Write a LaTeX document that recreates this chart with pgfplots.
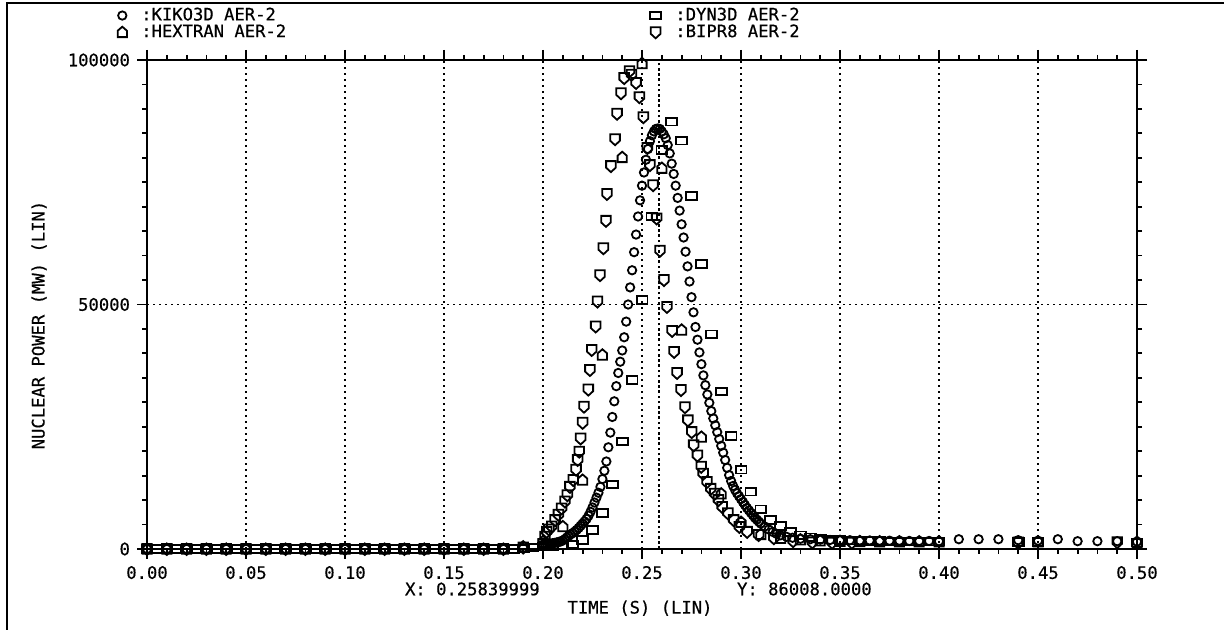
\documentclass[border=0pt]{standalone}
\usepackage{fontspec}
\setmainfont{DejaVu Sans Mono}[FakeBold=0.5]
\usepackage{pgfplots}
\usepackage{pgfplotstable}
\pgfplotsset{compat=1.18}
\newcommand\pf{\fontsize{8.6}{9}\selectfont}

% marks of the old plot program
\pgfdeclareplotmark{rect}{\pgfpathrectangle{\pgfpoint{-2.7pt}{-1.9pt}}{\pgfpoint{5.4pt}{3.8pt}}\pgfusepathqstroke}
\pgfdeclareplotmark{house}{%
  \pgfpathmoveto{\pgfpoint{-2.3pt}{-2.4pt}}\pgfpathlineto{\pgfpoint{2.3pt}{-2.4pt}}%
  \pgfpathlineto{\pgfpoint{2.3pt}{0.8pt}}\pgfpathlineto{\pgfpoint{0pt}{2.8pt}}%
  \pgfpathlineto{\pgfpoint{-2.3pt}{0.8pt}}\pgfpathclose\pgfusepathqstroke}
\pgfdeclareplotmark{shield}{%
  \pgfpathmoveto{\pgfpoint{-2.4pt}{2.5pt}}\pgfpathlineto{\pgfpoint{2.4pt}{2.5pt}}%
  \pgfpathlineto{\pgfpoint{2.4pt}{-0.8pt}}\pgfpathlineto{\pgfpoint{0pt}{-3pt}}%
  \pgfpathlineto{\pgfpoint{-2.4pt}{-0.8pt}}\pgfpathclose\pgfusepathqstroke}

\pgfplotstableread{
t P
0.00 0
0.01 0
0.02 0
0.03 0
0.04 0
0.05 0
0.06 0
0.07 0
0.08 0
0.09 0
0.10 0
0.11 0
0.12 0
0.13 0
0.14 0
0.15 0
0.16 0
0.17 0
0.18 0
0.19 200
0.200 900
0.201 950
0.202 1000
0.203 1050
0.204 1100
0.205 1200
0.206 1250
0.207 1350
0.208 1450
0.209 1550
0.210 1750
0.211 2000
0.212 2350
0.213 2700
0.214 3000
0.215 3250
0.216 3550
0.217 3900
0.218 4300
0.219 4750
0.220 5200
0.221 5650
0.222 6150
0.223 6800
0.224 7600
0.225 8500
0.226 9500
0.227 10500
0.228 11500
0.229 12700
0.230 14300
0.231 16000
0.232 17900
0.233 20800
0.234 23800
0.235 27000
0.236 30200
0.237 33300
0.238 36000
0.239 38300
0.240 40600
0.241 43300
0.242 46500
0.243 50000
0.244 53500
0.245 57000
0.246 60700
0.247 64300
0.248 68000
0.249 71300
0.250 74300
0.251 77000
0.252 79600
0.253 81800
0.254 83400
0.255 84600
0.256 85400
0.257 85900
0.258 86000
0.259 85900
0.260 85400
0.261 84800
0.262 84000
0.263 82600
0.264 80900
0.265 78800
0.266 76700
0.267 74300
0.268 71800
0.269 69200
0.270 66400
0.271 63700
0.272 60800
0.273 57800
0.274 54700
0.275 51500
0.276 48400
0.277 45400
0.278 42800
0.279 40200
0.280 37800
0.281 35500
0.282 33500
0.283 31600
0.284 29900
0.285 28200
0.286 26700
0.287 25300
0.288 23900
0.289 22500
0.290 21100
0.291 19700
0.292 18200
0.293 16600
0.294 15100
0.295 13900
0.296 12900
0.297 12100
0.298 11400
0.299 10800
0.300 10200
0.301 9600
0.302 9000
0.303 8400
0.304 7900
0.305 7400
0.306 6900
0.307 6400
0.308 6000
0.309 5600
0.310 5200
0.312 4600
0.314 4000
0.316 3500
0.318 3100
0.320 2800
0.323 2500
0.326 2300
0.330 2100
0.335 2000
0.340 1900
0.345 1850
0.350 1800
0.355 1800
0.360 1750
0.365 1750
0.370 1700
0.375 1700
0.380 1700
0.385 1650
0.390 1650
0.395 1650
0.400 1600
0.41 2000
0.42 2000
0.43 2000
0.44 1800
0.45 1700
0.46 2000
0.47 1600
0.48 1600
0.49 1600
0.50 1500
}\kiko

\pgfplotstableread{
t P
0.000 0
0.005 0
0.010 0
0.015 0
0.020 0
0.025 0
0.030 0
0.035 0
0.040 0
0.045 0
0.050 0
0.055 0
0.060 0
0.065 0
0.070 0
0.075 0
0.080 0
0.085 0
0.090 0
0.095 0
0.100 0
0.105 0
0.110 0
0.115 0
0.120 0
0.125 0
0.130 0
0.135 0
0.140 0
0.145 0
0.150 0
0.155 0
0.160 0
0.165 0
0.170 0
0.175 0
0.180 0
0.185 0
0.190 100
0.195 300
0.200 500
0.205 600
0.210 700
0.215 900
0.220 1800
0.225 3900
0.230 7400
0.235 13200
0.240 22000
0.245 34600
0.250 50900
0.255 68000
0.260 81600
0.265 87400
0.270 83500
0.275 72200
0.280 58300
0.285 43900
0.290 32200
0.295 23100
0.300 16200
0.305 11700
0.310 8100
0.315 5900
0.320 4700
0.325 3500
0.330 2800
0.335 2400
0.340 2100
0.345 1900
0.350 1800
0.355 1700
0.360 1650
0.365 1600
0.370 1600
0.375 1550
0.380 1550
0.385 1500
0.390 1500
0.395 1500
0.400 1500
0.440 1400
0.450 1400
0.500 1300
}\dyn

\pgfplotstableread{
t P
0.00 0
0.01 0
0.02 0
0.03 0
0.04 0
0.05 0
0.06 0
0.07 0
0.08 0
0.09 0
0.10 0
0.11 0
0.12 0
0.13 0
0.14 0
0.15 0
0.16 0
0.17 0
0.18 0
0.19 470
0.20 1500
0.21 4600
0.22 14100
0.23 39700
0.24 80100
0.25 99300
0.26 77900
0.27 44800
0.28 22900
0.29 11300
0.30 5500
0.31 3000
0.32 2200
0.33 1900
0.34 1700
0.35 1600
0.36 1550
0.37 1500
0.38 1500
0.39 1500
0.40 1500
0.45 1500
0.50 1400
}\hextran

\pgfplotstableread{
t P
0.00 0
0.01 0
0.02 0
0.03 0
0.04 0
0.05 0
0.06 0
0.07 0
0.08 0
0.09 0
0.10 0
0.11 0
0.12 0
0.13 0
0.14 0
0.15 0
0.16 0
0.17 0
0.18 0
0.19 300
0.2000 1000
0.2010 2500
0.2019 3500
0.2030 4000
0.2044 4600
0.2061 5900
0.2078 7000
0.2094 8300
0.2111 9700
0.2123 11000
0.2136 12700
0.2153 14100
0.2167 16200
0.2175 18200
0.2183 19900
0.2190 22600
0.2200 25800
0.2207 29100
0.2229 32600
0.2237 36600
0.2246 40700
0.2266 45500
0.2275 50600
0.2288 56000
0.2305 61500
0.2318 67100
0.2323 72600
0.2343 78300
0.2364 83800
0.2374 89000
0.2394 93200
0.2410 96300
0.2437 97700
0.2447 97000
0.2470 95300
0.2487 92400
0.2507 88300
0.2527 82000
0.2540 78500
0.2556 74400
0.2574 67600
0.2591 61000
0.2611 55000
0.2626 49500
0.2652 44600
0.2662 40300
0.2677 36000
0.2697 32500
0.2717 29000
0.2732 26300
0.2751 23900
0.2761 21200
0.2780 19100
0.2799 16800
0.2809 15400
0.2828 13700
0.2847 12300
0.2867 11300
0.2886 10000
0.2905 8600
0.2934 7300
0.2963 5900
0.2992 4500
0.3031 3500
0.3089 2850
0.3166 2200
0.3263 1600
0.3360 1350
0.3460 1300
0.3560 1300
0.44 1300
0.49 1400
}\bipr

\begin{document}
\begin{tikzpicture}[font=\pf]
\path[use as bounding box] (0,0) rectangle (612pt,315pt);
\draw[line width=1.3pt] (3.5pt,0) -- (3.5pt,313.5pt) -- (612pt,313.5pt);
\begin{axis}[
  at={(73.5pt,40.5pt)}, anchor=south west,
  scale only axis, width=495pt, height=244.5pt,
  xmin=0, xmax=0.5, ymin=0, ymax=100000,
  xtick={0,0.05,0.1,0.15,0.2,0.25,0.3,0.35,0.4,0.45,0.5},
  ytick={0,50000,100000},
  minor x tick num=4, minor y tick num=9,
  tick align=outside, major tick length=5pt, minor tick length=2.5pt,
  every tick/.style={black, line width=0.9pt},
  axis line style={line width=1pt},
  grid=major, major grid style={black, line width=0.8pt, dash pattern=on 0.8pt off 2.2pt},
  scaled x ticks=false, scaled y ticks=false,
  xticklabel style={/pgf/number format/.cd, fixed, fixed zerofill, precision=2, assume math mode=true},
  yticklabel style={/pgf/number format/.cd, fixed, set thousands separator={}, assume math mode=true},
  xlabel={TIME (S) (LIN)},
  xlabel style={at={(axis description cs:0.498,-0.121)}, anchor=center},
  ylabel={NUCLEAR POWER (MW) (LIN)},
  ylabel style={at={(axis description cs:-0.109,0.458)}, anchor=center, rotate=0},
  clip=false,
  legend columns=2,
  legend cell align=left,
  legend image code/.code={\draw[#1] plot coordinates {(0pt,0pt)};},
  legend style={draw=none, fill=none, at={(rel axis cs:-0.03,1.116)}, anchor=north west,
    inner sep=0pt, row sep=-3.5pt, font=\pf,
    /tikz/every even column/.append style={column sep=180pt}},
  every axis plot/.append style={black, line width=0.9pt},
]
\addplot[only marks, mark=o, mark size=2.1pt] table[x=t,y=P] {\kiko};
\addlegendentry{\ :KIKO3D AER-2}
\addplot[only marks, mark=rect] table[x=t,y=P] {\dyn};
\addlegendentry{\ :DYN3D AER-2}
\addplot[only marks, mark=house] table[x=t,y=P] {\hextran};
\addlegendentry{\ :HEXTRAN AER-2}
\addplot[only marks, mark=shield] table[x=t,y=P] {\bipr};
\addlegendentry{\ :BIPR8 AER-2}
\draw[black, line width=0.9pt, dash pattern=on 1.3pt off 1.3pt] (axis cs:0.2584,0) -- (axis cs:0.2584,100000);
\end{axis}
\node[anchor=west] at (199pt,20.5pt) {X: 0.25839999};
\node[anchor=west] at (365pt,20.5pt) {Y: 86008.0000};
\end{tikzpicture}
\end{document}
